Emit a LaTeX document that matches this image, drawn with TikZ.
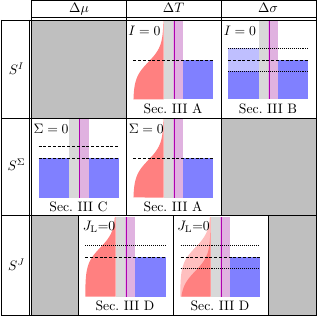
\documentclass[tikz,border=0pt]{standalone}
\usepackage{amsmath}
\definecolor{hot}{RGB}{255,128,128}
\definecolor{hotlight}{RGB}{255,191,191}
\definecolor{cold}{RGB}{128,128,255}
\definecolor{coldlight}{RGB}{191,191,255}
\definecolor{bandgray}{RGB}{216,216,216}
\definecolor{bandpink}{RGB}{224,178,224}
\definecolor{purpline}{RGB}{175,0,175}
\definecolor{cellgray}{RGB}{191,191,191}
\newcommand{\LRbands}{%
  \fill[bandgray] (37.5,0) rectangle (47,79.5);
  \fill[bandpink] (47,0) rectangle (57,79.5);
  \draw[purpline,line width=0.55pt] (48,0) -- (48,79.5);}
\newcommand{\HotFill}[2]{%
  \fill[#1] (37.5,0) -- plot[domain=0:79.5,samples=60,smooth,variable=\t]
    ({37.5-30.3/(1+exp((#2-\t)/8))},\t) -- (37.5,79.5) -- cycle;}
\begin{document}
\begin{tikzpicture}[x=0.73pt,y=-0.73pt,
  tab/.style={line width=0.55pt},
  dashln/.style={line width=0.6pt,dash pattern=on 2.2pt off 1.3pt},
  dotln/.style={line width=0.6pt,dash pattern=on 0.55pt off 0.9pt},
  caplbl/.style={anchor=base,inner sep=0pt},
  cond/.style={anchor=base west,inner sep=0pt},
  hdr/.style={anchor=base,inner sep=0pt}]
\useasboundingbox (0,0) rectangle (316,317);
% grey (empty) cells
\fill[cellgray] (31.5,20) rectangle (126,118);
\fill[cellgray] (221,118) rectangle (316,215);
\fill[cellgray] (31.5,215) rectangle (78,315.5);
\fill[cellgray] (268,215) rectangle (316,315.5);
% ---- row 1, Delta T : Sec. III A
\begin{scope}[shift={(126,20)}]
  \HotFill{hot}{42}
  \LRbands
  \fill[cold] (57,40) rectangle (87.3,79.5);
  \draw[dashln] (7.3,40) -- (87.3,40);
  \node[cond] (c1T) at (2,16) {$I=0$};
  \node[caplbl] (s1T) at (47,93.5) {Sec.\ III A};
\end{scope}
% ---- row 1, Delta sigma : Sec. III B
\begin{scope}[shift={(221,20)}]
  \fill[coldlight] (7,28) rectangle (37.5,51);
  \fill[cold] (7,51) rectangle (37.5,79.5);
  \LRbands
  \fill[cold] (57,40) rectangle (86.5,79.5);
  \draw[dotln] (7,28) -- (86.5,28);
  \draw[dashln] (7,40) -- (86.5,40);
  \draw[dotln] (7,51) -- (86.5,51);
  \node[cond] (c1s) at (2.5,16) {$I=0$};
  \node[caplbl] (s1s) at (47,93.5) {Sec.\ III B};
\end{scope}
% ---- row 2, Delta mu : Sec. III C
\begin{scope}[shift={(31.5,118)}]
  \fill[cold] (7,40) rectangle (37.5,79.5);
  \LRbands
  \fill[cold] (57,40) rectangle (87,79.5);
  \draw[dashln] (7,28) -- (87,28);
  \draw[dashln] (7,40) -- (87,40);
  \node[cond] (c2m) at (1.8,15.5) {$\Sigma=0$};
  \node[caplbl] (s2m) at (47,93.5) {Sec.\ III C};
\end{scope}
% ---- row 2, Delta T : Sec. III A
\begin{scope}[shift={(126,118)}]
  \HotFill{hot}{42}
  \LRbands
  \fill[cold] (57,40) rectangle (87.3,79.5);
  \draw[dashln] (7.3,40) -- (87.3,40);
  \node[cond] (c2T) at (2.5,15.5) {$\Sigma=0$};
  \node[caplbl] (s2T) at (47,93.5) {Sec.\ III A};
\end{scope}
% ---- row 3, first : Sec. III D
\begin{scope}[shift={(78,217)}]
  \HotFill{hot}{30.5}
  \LRbands
  \fill[cold] (57,40) rectangle (88,79.5);
  \draw[dotln] (7.3,28) -- (88,28);
  \draw[dashln] (7.3,40) -- (88,40);
  \node[cond] (c3a) at (4.5,13) {$J_{\mathrm{L}}{=}0$};
  \node[caplbl] (s3a) at (47,93.5) {Sec.\ III D};
\end{scope}
% ---- row 3, second : Sec. III D
\begin{scope}[shift={(173,217)}]
  \HotFill{hotlight}{30.5}
  \HotFill{hot}{54}
  \LRbands
  \fill[cold] (57,40) rectangle (87,79.5);
  \draw[dotln] (7.7,28) -- (87,28);
  \draw[dashln] (7.7,40) -- (87,40);
  \draw[dotln] (7.7,51.5) -- (87,51.5);
  \node[cond] (c3b) at (4,13) {$J_{\mathrm{L}}{=}0$};
  \node[caplbl] (s3b) at (47,93.5) {Sec.\ III D};
\end{scope}
% ---- headers and row labels
\node[hdr] (hmu) at (79,12.6) {$\Delta\mu$};
\node[hdr] (hT) at (173.5,12.6) {$\Delta T$};
\node[hdr] (hs) at (268,12.6) {$\Delta\sigma$};
\node (rI) at (16.5,69) {$S^I$};
\node (rS) at (16.5,165) {$S^\Sigma$};
\node (rJ) at (16.5,265) {$S^J$};
% ---- table rules
\draw[tab] (31.5,0.5) -- (316.5,0.5);
\draw[tab] (31.5,17.5) -- (316.5,17.5);
\draw[tab] (1.5,20) -- (316.5,20);
\draw[tab] (1.5,118) -- (316.5,118);
\draw[tab] (1.5,215) -- (316.5,215);
\draw[tab] (1.5,315.5) -- (316.5,315.5);
\draw[tab] (1.5,20) -- (1.5,315.5);
\draw[tab] (29.5,20) -- (29.5,315.5);
\draw[tab] (31.5,0.5) -- (31.5,315.5);
\draw[tab] (126,0.5) -- (126,215);
\draw[tab] (221,0.5) -- (221,215);
\draw[tab] (316.6,0.5) -- (316.6,315.5);
\draw[tab] (78,215) -- (78,315.5);
\draw[tab] (173,215) -- (173,315.5);
\draw[tab] (268,215) -- (268,315.5);
\end{tikzpicture}
\end{document}
